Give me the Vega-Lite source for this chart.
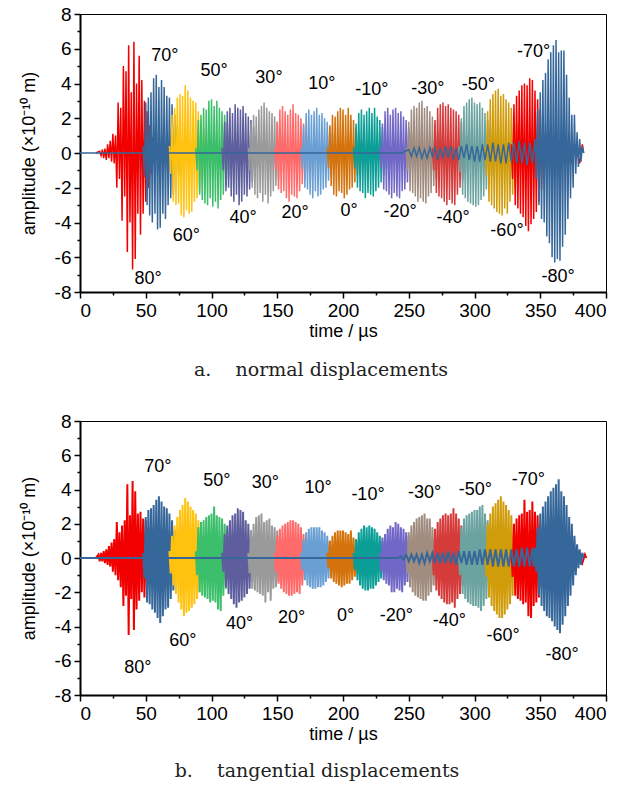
{
"$schema":"https://vega.github.io/schema/vega-lite/v6.json",
"padding":{"left":19,"top":4,"right":5,"bottom":5},
"spacing":30,
"config":{"view":{"stroke":"#000","strokeWidth":1},"axis":{"grid":false,"labelOverlap":false,"domainColor":"#000","domainWidth":2,"tickColor":"#000","tickWidth":1.5,"labelColor":"#000","labelFont":"Liberation Sans","labelFontSize":19,"labelPadding":3,"titleFont":"Liberation Sans","titleFontSize":18,"titleFontWeight":"normal","titleColor":"#000"},"title":{"font":"DejaVu Serif","fontSize":19,"fontWeight":"normal","color":"#222","orient":"bottom"}},
"datasets":{
"lab":[
{"p":"a","s":"70°","t":64.6,"y":5.6},{"p":"a","s":"50°","t":101.9,"y":4.7},{"p":"a","s":"30°","t":143.7,"y":4.3},{"p":"a","s":"10°","t":184,"y":4.0},{"p":"a","s":"-10°","t":222,"y":3.6},{"p":"a","s":"-30°","t":264.6,"y":3.7},{"p":"a","s":"-50°","t":303,"y":3.9},{"p":"a","s":"-70°","t":345,"y":5.8},{"p":"a","s":"80°","t":51.7,"y":-7.25},{"p":"a","s":"60°","t":80.8,"y":-4.8},{"p":"a","s":"40°","t":124,"y":-3.75},{"p":"a","s":"20°","t":163.5,"y":-3.45},{"p":"a","s":"0°","t":204.6,"y":-3.35},{"p":"a","s":"-20°","t":243.4,"y":-3.4},{"p":"a","s":"-40°","t":283.7,"y":-3.75},{"p":"a","s":"-60°","t":324.7,"y":-4.5},{"p":"a","s":"-80°","t":363.5,"y":-7.15},
{"p":"b","s":"70°","t":59.2,"y":5.3},{"p":"b","s":"50°","t":104,"y":4.5},{"p":"b","s":"30°","t":141,"y":4.4},{"p":"b","s":"10°","t":181,"y":4.1},{"p":"b","s":"-10°","t":219,"y":3.65},{"p":"b","s":"-30°","t":262,"y":3.8},{"p":"b","s":"-50°","t":300.6,"y":3.95},{"p":"b","s":"-70°","t":341,"y":4.55},{"p":"b","s":"80°","t":44,"y":-6.4},{"p":"b","s":"60°","t":78.2,"y":-4.85},{"p":"b","s":"40°","t":121.4,"y":-3.85},{"p":"b","s":"20°","t":160.9,"y":-3.5},{"p":"b","s":"0°","t":202,"y":-3.4},{"p":"b","s":"-20°","t":240.6,"y":-3.4},{"p":"b","s":"-40°","t":280.8,"y":-3.7},{"p":"b","s":"-60°","t":321.8,"y":-4.55},{"p":"b","s":"-80°","t":366.6,"y":-5.65}
],
"a":[
{"k":"80","t":12,"y":0},{"k":"80","t":15,"y":0.1},{"k":"80","t":16,"y":-0.15},{"k":"80","t":17,"y":0.2},{"k":"80","t":18,"y":-0.3},{"k":"80","t":19,"y":0.25},{"k":"80","t":20,"y":-0.4},{"k":"80","t":21,"y":0.5},{"k":"80","t":22,"y":-0.3},{"k":"80","t":23,"y":0.7},{"k":"80","t":24,"y":-0.5},{"k":"80","t":25,"y":1.1},{"k":"80","t":26,"y":-0.6},{"k":"80","t":27,"y":1.0},{"k":"80","t":28,"y":-2.0},{"k":"80","t":29,"y":2.9},{"k":"80","t":30,"y":-1.5},{"k":"80","t":31,"y":2.6},{"k":"80","t":32,"y":-3.9},{"k":"80","t":33,"y":5.0},{"k":"80","t":34,"y":-2.5},{"k":"80","t":35,"y":4.7},{"k":"80","t":36,"y":-5.7},{"k":"80","t":37,"y":6.2},{"k":"80","t":38,"y":-4.0},{"k":"80","t":39,"y":3.5},{"k":"80","t":40,"y":-6.7},{"k":"80","t":41,"y":6.4},{"k":"80","t":42,"y":-6.1},{"k":"80","t":43,"y":4.0},{"k":"80","t":44,"y":-3.5},{"k":"80","t":45,"y":5.6},{"k":"80","t":46,"y":-4.7},{"k":"80","t":47,"y":4.2},{"k":"80","t":48,"y":-3.5},{"k":"80","t":49,"y":3.0},{"k":"80","t":50,"y":-2.8},{"k":"80","t":51,"y":2.4},{"k":"80","t":52,"y":-2.0},{"k":"80","t":53,"y":1.6},{"k":"80","t":54,"y":-1.2},{"k":"80","t":55,"y":0.9},{"k":"80","t":56,"y":-0.6},{"k":"80","t":57,"y":0.4},{"k":"80","t":60,"y":-0.3},{"k":"80","t":66,"y":0.2},{"k":"80","t":75,"y":0},
{"k":"70","t":48,"y":0.4},{"k":"70","t":49,"y":-1.4},{"k":"70","t":50,"y":2.9},{"k":"70","t":51,"y":-3.0},{"k":"70","t":52,"y":3.2},{"k":"70","t":53,"y":-3.6},{"k":"70","t":54,"y":3.5},{"k":"70","t":55,"y":-4.0},{"k":"70","t":56,"y":4.3},{"k":"70","t":57,"y":-3.5},{"k":"70","t":58,"y":4.5},{"k":"70","t":59,"y":-4.4},{"k":"70","t":60,"y":3.8},{"k":"70","t":61,"y":-4.3},{"k":"70","t":62,"y":4.2},{"k":"70","t":63,"y":-3.5},{"k":"70","t":64,"y":3.8},{"k":"70","t":65,"y":-3.8},{"k":"70","t":66,"y":3.3},{"k":"70","t":67,"y":-3.0},{"k":"70","t":68,"y":3.2},{"k":"70","t":69,"y":-2.6},{"k":"70","t":70,"y":2.8},{"k":"70","t":71,"y":-2.4},{"k":"70","t":72,"y":2.2},{"k":"70","t":73,"y":-1.9},{"k":"70","t":74,"y":1.6},{"k":"70","t":75,"y":-1.3},{"k":"70","t":76,"y":1.0},{"k":"70","t":77,"y":-0.7},{"k":"70","t":78,"y":0.4},
{"k":"60","t":68,"y":0.4},{"k":"60","t":69,"y":-1.2},{"k":"60","t":70,"y":2.2},{"k":"60","t":71,"y":-2.8},{"k":"60","t":72,"y":2.6},{"k":"60","t":73,"y":-3.0},{"k":"60","t":74,"y":3.2},{"k":"60","t":75,"y":-2.9},{"k":"60","t":76,"y":3.4},{"k":"60","t":77,"y":-3.6},{"k":"60","t":78,"y":3.3},{"k":"60","t":79,"y":-3.7},{"k":"60","t":80,"y":3.9},{"k":"60","t":81,"y":-3.3},{"k":"60","t":82,"y":3.6},{"k":"60","t":83,"y":-3.5},{"k":"60","t":84,"y":3.2},{"k":"60","t":85,"y":-3.4},{"k":"60","t":86,"y":3.0},{"k":"60","t":87,"y":-2.8},{"k":"60","t":88,"y":2.9},{"k":"60","t":89,"y":-2.6},{"k":"60","t":90,"y":2.4},{"k":"60","t":91,"y":-2.2},{"k":"60","t":92,"y":2.0},{"k":"60","t":93,"y":-1.7},{"k":"60","t":94,"y":1.4},{"k":"60","t":95,"y":-1.1},{"k":"60","t":96,"y":0.8},{"k":"60","t":97,"y":-0.5},{"k":"60","t":98,"y":0.3},
{"k":"50","t":88,"y":0.3},{"k":"50","t":89,"y":-1.0},{"k":"50","t":90,"y":1.9},{"k":"50","t":91,"y":-2.4},{"k":"50","t":92,"y":2.2},{"k":"50","t":93,"y":-2.7},{"k":"50","t":94,"y":2.6},{"k":"50","t":95,"y":-2.9},{"k":"50","t":96,"y":2.5},{"k":"50","t":97,"y":-3.0},{"k":"50","t":98,"y":3.0},{"k":"50","t":99,"y":-2.6},{"k":"50","t":100,"y":3.1},{"k":"50","t":101,"y":-3.1},{"k":"50","t":102,"y":2.7},{"k":"50","t":103,"y":-2.8},{"k":"50","t":104,"y":3.0},{"k":"50","t":105,"y":-3.2},{"k":"50","t":106,"y":2.6},{"k":"50","t":107,"y":-2.7},{"k":"50","t":108,"y":2.4},{"k":"50","t":109,"y":-2.4},{"k":"50","t":110,"y":2.2},{"k":"50","t":111,"y":-1.9},{"k":"50","t":112,"y":1.7},{"k":"50","t":113,"y":-1.5},{"k":"50","t":114,"y":1.2},{"k":"50","t":115,"y":-0.9},{"k":"50","t":116,"y":0.7},{"k":"50","t":117,"y":-0.5},{"k":"50","t":118,"y":0.3},
{"k":"40","t":108,"y":0.3},{"k":"40","t":109,"y":-1.0},{"k":"40","t":110,"y":1.8},{"k":"40","t":111,"y":-2.2},{"k":"40","t":112,"y":2.4},{"k":"40","t":113,"y":-2.0},{"k":"40","t":114,"y":2.6},{"k":"40","t":115,"y":-2.5},{"k":"40","t":116,"y":2.3},{"k":"40","t":117,"y":-2.8},{"k":"40","t":118,"y":2.8},{"k":"40","t":119,"y":-2.4},{"k":"40","t":120,"y":2.6},{"k":"40","t":121,"y":-3.0},{"k":"40","t":122,"y":2.5},{"k":"40","t":123,"y":-2.8},{"k":"40","t":124,"y":2.7},{"k":"40","t":125,"y":-2.4},{"k":"40","t":126,"y":2.3},{"k":"40","t":127,"y":-2.5},{"k":"40","t":128,"y":2.1},{"k":"40","t":129,"y":-2.1},{"k":"40","t":130,"y":1.9},{"k":"40","t":131,"y":-1.7},{"k":"40","t":132,"y":1.5},{"k":"40","t":133,"y":-1.3},{"k":"40","t":134,"y":1.0},{"k":"40","t":135,"y":-0.8},{"k":"40","t":136,"y":0.6},{"k":"40","t":137,"y":-0.4},{"k":"40","t":138,"y":0.2},
{"k":"30","t":128,"y":0.3},{"k":"30","t":129,"y":-1.0},{"k":"30","t":130,"y":1.7},{"k":"30","t":131,"y":-2.0},{"k":"30","t":132,"y":2.2},{"k":"30","t":133,"y":-2.4},{"k":"30","t":134,"y":2.1},{"k":"30","t":135,"y":-2.6},{"k":"30","t":136,"y":2.5},{"k":"30","t":137,"y":-2.3},{"k":"30","t":138,"y":2.7},{"k":"30","t":139,"y":-2.8},{"k":"30","t":140,"y":2.9},{"k":"30","t":141,"y":-2.4},{"k":"30","t":142,"y":2.6},{"k":"30","t":143,"y":-2.9},{"k":"30","t":144,"y":2.4},{"k":"30","t":145,"y":-2.5},{"k":"30","t":146,"y":2.3},{"k":"30","t":147,"y":-2.2},{"k":"30","t":148,"y":2.1},{"k":"30","t":149,"y":-1.9},{"k":"30","t":150,"y":1.8},{"k":"30","t":151,"y":-1.6},{"k":"30","t":152,"y":1.4},{"k":"30","t":153,"y":-1.2},{"k":"30","t":154,"y":1.0},{"k":"30","t":155,"y":-0.8},{"k":"30","t":156,"y":0.6},{"k":"30","t":157,"y":-0.4},{"k":"30","t":158,"y":0.2},
{"k":"20","t":148,"y":0.3},{"k":"20","t":149,"y":-1.0},{"k":"20","t":150,"y":1.8},{"k":"20","t":151,"y":-2.1},{"k":"20","t":152,"y":2.5},{"k":"20","t":153,"y":-2.3},{"k":"20","t":154,"y":2.7},{"k":"20","t":155,"y":-2.2},{"k":"20","t":156,"y":2.4},{"k":"20","t":157,"y":-2.6},{"k":"20","t":158,"y":2.2},{"k":"20","t":159,"y":-2.8},{"k":"20","t":160,"y":2.5},{"k":"20","t":161,"y":-2.4},{"k":"20","t":162,"y":2.8},{"k":"20","t":163,"y":-2.5},{"k":"20","t":164,"y":2.3},{"k":"20","t":165,"y":-2.6},{"k":"20","t":166,"y":2.2},{"k":"20","t":167,"y":-2.2},{"k":"20","t":168,"y":2.0},{"k":"20","t":169,"y":-1.8},{"k":"20","t":170,"y":1.7},{"k":"20","t":171,"y":-1.5},{"k":"20","t":172,"y":1.3},{"k":"20","t":173,"y":-1.1},{"k":"20","t":174,"y":0.9},{"k":"20","t":175,"y":-0.7},{"k":"20","t":176,"y":0.5},{"k":"20","t":177,"y":-0.4},{"k":"20","t":178,"y":0.2},
{"k":"10","t":168,"y":0.3},{"k":"10","t":169,"y":-0.9},{"k":"10","t":170,"y":1.6},{"k":"10","t":171,"y":-2.0},{"k":"10","t":172,"y":2.3},{"k":"10","t":173,"y":-2.1},{"k":"10","t":174,"y":2.5},{"k":"10","t":175,"y":-2.4},{"k":"10","t":176,"y":2.2},{"k":"10","t":177,"y":-2.6},{"k":"10","t":178,"y":2.4},{"k":"10","t":179,"y":-2.2},{"k":"10","t":180,"y":2.6},{"k":"10","t":181,"y":-2.5},{"k":"10","t":182,"y":2.2},{"k":"10","t":183,"y":-2.4},{"k":"10","t":184,"y":2.3},{"k":"10","t":185,"y":-2.1},{"k":"10","t":186,"y":2.0},{"k":"10","t":187,"y":-2.0},{"k":"10","t":188,"y":1.8},{"k":"10","t":189,"y":-1.6},{"k":"10","t":190,"y":1.5},{"k":"10","t":191,"y":-1.3},{"k":"10","t":192,"y":1.1},{"k":"10","t":193,"y":-0.9},{"k":"10","t":194,"y":0.8},{"k":"10","t":195,"y":-0.6},{"k":"10","t":196,"y":0.4},{"k":"10","t":197,"y":-0.3},{"k":"10","t":198,"y":0.2},
{"k":"0","t":188,"y":0.3},{"k":"0","t":189,"y":-0.9},{"k":"0","t":190,"y":1.6},{"k":"0","t":191,"y":-1.9},{"k":"0","t":192,"y":2.2},{"k":"0","t":193,"y":-2.4},{"k":"0","t":194,"y":2.1},{"k":"0","t":195,"y":-2.5},{"k":"0","t":196,"y":2.4},{"k":"0","t":197,"y":-2.2},{"k":"0","t":198,"y":2.6},{"k":"0","t":199,"y":-2.3},{"k":"0","t":200,"y":2.5},{"k":"0","t":201,"y":-2.6},{"k":"0","t":202,"y":2.2},{"k":"0","t":203,"y":-2.4},{"k":"0","t":204,"y":2.6},{"k":"0","t":205,"y":-2.1},{"k":"0","t":206,"y":2.2},{"k":"0","t":207,"y":-2.0},{"k":"0","t":208,"y":1.9},{"k":"0","t":209,"y":-1.7},{"k":"0","t":210,"y":1.5},{"k":"0","t":211,"y":-1.3},{"k":"0","t":212,"y":1.1},{"k":"0","t":213,"y":-0.9},{"k":"0","t":214,"y":0.8},{"k":"0","t":215,"y":-0.6},{"k":"0","t":216,"y":0.4},{"k":"0","t":217,"y":-0.3},{"k":"0","t":218,"y":0.2},
{"k":"-10","t":208,"y":0.3},{"k":"-10","t":209,"y":-0.9},{"k":"-10","t":210,"y":1.7},{"k":"-10","t":211,"y":-2.0},{"k":"-10","t":212,"y":2.3},{"k":"-10","t":213,"y":-2.2},{"k":"-10","t":214,"y":2.5},{"k":"-10","t":215,"y":-2.3},{"k":"-10","t":216,"y":2.2},{"k":"-10","t":217,"y":-2.6},{"k":"-10","t":218,"y":2.4},{"k":"-10","t":219,"y":-2.3},{"k":"-10","t":220,"y":2.6},{"k":"-10","t":221,"y":-2.4},{"k":"-10","t":222,"y":2.3},{"k":"-10","t":223,"y":-2.5},{"k":"-10","t":224,"y":2.6},{"k":"-10","t":225,"y":-2.2},{"k":"-10","t":226,"y":2.1},{"k":"-10","t":227,"y":-2.0},{"k":"-10","t":228,"y":1.9},{"k":"-10","t":229,"y":-1.7},{"k":"-10","t":230,"y":1.5},{"k":"-10","t":231,"y":-1.3},{"k":"-10","t":232,"y":1.1},{"k":"-10","t":233,"y":-0.9},{"k":"-10","t":234,"y":0.8},{"k":"-10","t":235,"y":-0.6},{"k":"-10","t":236,"y":0.4},{"k":"-10","t":237,"y":-0.3},{"k":"-10","t":238,"y":0.2},
{"k":"-20","t":228,"y":0.3},{"k":"-20","t":229,"y":-0.9},{"k":"-20","t":230,"y":1.7},{"k":"-20","t":231,"y":-2.1},{"k":"-20","t":232,"y":2.4},{"k":"-20","t":233,"y":-2.2},{"k":"-20","t":234,"y":2.6},{"k":"-20","t":235,"y":-2.4},{"k":"-20","t":236,"y":2.2},{"k":"-20","t":237,"y":-2.6},{"k":"-20","t":238,"y":2.5},{"k":"-20","t":239,"y":-2.3},{"k":"-20","t":240,"y":2.6},{"k":"-20","t":241,"y":-2.5},{"k":"-20","t":242,"y":2.3},{"k":"-20","t":243,"y":-2.6},{"k":"-20","t":244,"y":2.4},{"k":"-20","t":245,"y":-2.2},{"k":"-20","t":246,"y":2.1},{"k":"-20","t":247,"y":-2.1},{"k":"-20","t":248,"y":1.9},{"k":"-20","t":249,"y":-1.7},{"k":"-20","t":250,"y":1.5},{"k":"-20","t":251,"y":-1.3},{"k":"-20","t":252,"y":1.1},{"k":"-20","t":253,"y":-0.9},{"k":"-20","t":254,"y":0.8},{"k":"-20","t":255,"y":-0.6},{"k":"-20","t":256,"y":0.4},{"k":"-20","t":257,"y":-0.3},{"k":"-20","t":258,"y":0.2},
{"k":"-30","t":248,"y":0.3},{"k":"-30","t":249,"y":-1.0},{"k":"-30","t":250,"y":1.8},{"k":"-30","t":251,"y":-2.2},{"k":"-30","t":252,"y":2.5},{"k":"-30","t":253,"y":-2.3},{"k":"-30","t":254,"y":2.7},{"k":"-30","t":255,"y":-2.5},{"k":"-30","t":256,"y":2.6},{"k":"-30","t":257,"y":-2.8},{"k":"-30","t":258,"y":2.9},{"k":"-30","t":259,"y":-2.6},{"k":"-30","t":260,"y":3.0},{"k":"-30","t":261,"y":-2.8},{"k":"-30","t":262,"y":2.6},{"k":"-30","t":263,"y":-2.9},{"k":"-30","t":264,"y":2.7},{"k":"-30","t":265,"y":-2.5},{"k":"-30","t":266,"y":2.4},{"k":"-30","t":267,"y":-2.3},{"k":"-30","t":268,"y":2.1},{"k":"-30","t":269,"y":-1.9},{"k":"-30","t":270,"y":1.7},{"k":"-30","t":271,"y":-1.5},{"k":"-30","t":272,"y":1.3},{"k":"-30","t":273,"y":-1.1},{"k":"-30","t":274,"y":0.9},{"k":"-30","t":275,"y":-0.7},{"k":"-30","t":276,"y":0.5},{"k":"-30","t":277,"y":-0.3},{"k":"-30","t":278,"y":0.2},
{"k":"-40","t":268,"y":0.3},{"k":"-40","t":269,"y":-1.0},{"k":"-40","t":270,"y":1.9},{"k":"-40","t":271,"y":-2.3},{"k":"-40","t":272,"y":2.6},{"k":"-40","t":273,"y":-2.5},{"k":"-40","t":274,"y":2.8},{"k":"-40","t":275,"y":-2.6},{"k":"-40","t":276,"y":2.9},{"k":"-40","t":277,"y":-2.8},{"k":"-40","t":278,"y":2.7},{"k":"-40","t":279,"y":-3.0},{"k":"-40","t":280,"y":2.8},{"k":"-40","t":281,"y":-2.7},{"k":"-40","t":282,"y":2.6},{"k":"-40","t":283,"y":-2.9},{"k":"-40","t":284,"y":2.5},{"k":"-40","t":285,"y":-3.0},{"k":"-40","t":286,"y":2.4},{"k":"-40","t":287,"y":-2.4},{"k":"-40","t":288,"y":2.2},{"k":"-40","t":289,"y":-2.0},{"k":"-40","t":290,"y":1.8},{"k":"-40","t":291,"y":-1.6},{"k":"-40","t":292,"y":1.4},{"k":"-40","t":293,"y":-1.2},{"k":"-40","t":294,"y":1.0},{"k":"-40","t":295,"y":-0.8},{"k":"-40","t":296,"y":0.6},{"k":"-40","t":297,"y":-0.4},{"k":"-40","t":298,"y":0.2},
{"k":"-50","t":288,"y":0.4},{"k":"-50","t":289,"y":-1.1},{"k":"-50","t":290,"y":2.0},{"k":"-50","t":291,"y":-2.4},{"k":"-50","t":292,"y":2.7},{"k":"-50","t":293,"y":-2.6},{"k":"-50","t":294,"y":2.9},{"k":"-50","t":295,"y":-2.8},{"k":"-50","t":296,"y":3.1},{"k":"-50","t":297,"y":-2.9},{"k":"-50","t":298,"y":3.2},{"k":"-50","t":299,"y":-3.0},{"k":"-50","t":300,"y":2.9},{"k":"-50","t":301,"y":-3.1},{"k":"-50","t":302,"y":2.8},{"k":"-50","t":303,"y":-3.0},{"k":"-50","t":304,"y":2.9},{"k":"-50","t":305,"y":-2.7},{"k":"-50","t":306,"y":2.6},{"k":"-50","t":307,"y":-2.5},{"k":"-50","t":308,"y":2.3},{"k":"-50","t":309,"y":-2.1},{"k":"-50","t":310,"y":1.9},{"k":"-50","t":311,"y":-1.7},{"k":"-50","t":312,"y":1.5},{"k":"-50","t":313,"y":-1.3},{"k":"-50","t":314,"y":1.1},{"k":"-50","t":315,"y":-0.9},{"k":"-50","t":316,"y":0.7},{"k":"-50","t":317,"y":-0.5},{"k":"-50","t":318,"y":0.3},
{"k":"-60","t":308,"y":0.4},{"k":"-60","t":309,"y":-1.3},{"k":"-60","t":310,"y":2.4},{"k":"-60","t":311,"y":-2.8},{"k":"-60","t":312,"y":3.1},{"k":"-60","t":313,"y":-3.0},{"k":"-60","t":314,"y":3.4},{"k":"-60","t":315,"y":-3.2},{"k":"-60","t":316,"y":3.6},{"k":"-60","t":317,"y":-3.4},{"k":"-60","t":318,"y":3.7},{"k":"-60","t":319,"y":-3.5},{"k":"-60","t":320,"y":3.3},{"k":"-60","t":321,"y":-3.6},{"k":"-60","t":322,"y":3.4},{"k":"-60","t":323,"y":-3.2},{"k":"-60","t":324,"y":3.1},{"k":"-60","t":325,"y":-3.5},{"k":"-60","t":326,"y":2.9},{"k":"-60","t":327,"y":-2.8},{"k":"-60","t":328,"y":2.6},{"k":"-60","t":329,"y":-2.4},{"k":"-60","t":330,"y":2.2},{"k":"-60","t":331,"y":-2.0},{"k":"-60","t":332,"y":1.7},{"k":"-60","t":333,"y":-1.5},{"k":"-60","t":334,"y":1.2},{"k":"-60","t":335,"y":-1.0},{"k":"-60","t":336,"y":0.8},{"k":"-60","t":337,"y":-0.6},{"k":"-60","t":338,"y":0.3},
{"k":"-70","t":328,"y":0.5},{"k":"-70","t":329,"y":-1.5},{"k":"-70","t":330,"y":2.8},{"k":"-70","t":331,"y":-3.0},{"k":"-70","t":332,"y":3.3},{"k":"-70","t":333,"y":-3.2},{"k":"-70","t":334,"y":3.6},{"k":"-70","t":335,"y":-3.5},{"k":"-70","t":336,"y":3.9},{"k":"-70","t":337,"y":-3.7},{"k":"-70","t":338,"y":4.0},{"k":"-70","t":339,"y":-4.2},{"k":"-70","t":340,"y":3.9},{"k":"-70","t":341,"y":-4.5},{"k":"-70","t":342,"y":4.3},{"k":"-70","t":343,"y":-4.1},{"k":"-70","t":344,"y":4.2},{"k":"-70","t":345,"y":-3.8},{"k":"-70","t":346,"y":3.6},{"k":"-70","t":347,"y":-3.4},{"k":"-70","t":348,"y":3.1},{"k":"-70","t":349,"y":-2.8},{"k":"-70","t":350,"y":2.5},{"k":"-70","t":351,"y":-2.1},{"k":"-70","t":352,"y":1.8},{"k":"-70","t":353,"y":-1.5},{"k":"-70","t":354,"y":1.2},{"k":"-70","t":355,"y":-0.9},{"k":"-70","t":356,"y":0.7},{"k":"-70","t":357,"y":-0.5},{"k":"-70","t":359,"y":0.5},{"k":"-70","t":362,"y":-0.5},{"k":"-70","t":365,"y":0.6},{"k":"-70","t":368,"y":-0.5},{"k":"-70","t":371,"y":0.5},{"k":"-70","t":374,"y":-0.6},{"k":"-70","t":377,"y":0.5},{"k":"-70","t":380,"y":-0.6},{"k":"-70","t":382,"y":0.5},{"k":"-70","t":383,"y":0},
{"k":"-80","t":0,"y":0},{"k":"-80","t":245,"y":0},{"k":"-80","t":250,"y":0.2},{"k":"-80","t":252,"y":-0.2},{"k":"-80","t":254,"y":0.3},{"k":"-80","t":256,"y":-0.2},{"k":"-80","t":258,"y":0.3},{"k":"-80","t":260,"y":-0.3},{"k":"-80","t":262,"y":0.2},{"k":"-80","t":264,"y":-0.3},{"k":"-80","t":266,"y":0.3},{"k":"-80","t":268,"y":-0.2},{"k":"-80","t":270,"y":0.3},{"k":"-80","t":272,"y":-0.4},{"k":"-80","t":274,"y":0.3},{"k":"-80","t":276,"y":-0.3},{"k":"-80","t":278,"y":0.4},{"k":"-80","t":280,"y":-0.3},{"k":"-80","t":282,"y":0.4},{"k":"-80","t":284,"y":-0.4},{"k":"-80","t":286,"y":0.3},{"k":"-80","t":288,"y":-0.4},{"k":"-80","t":290,"y":0.4},{"k":"-80","t":292,"y":-0.3},{"k":"-80","t":294,"y":0.5},{"k":"-80","t":296,"y":-0.4},{"k":"-80","t":298,"y":0.4},{"k":"-80","t":300,"y":-0.5},{"k":"-80","t":302,"y":0.4},{"k":"-80","t":304,"y":-0.5},{"k":"-80","t":306,"y":0.5},{"k":"-80","t":308,"y":-0.4},{"k":"-80","t":310,"y":0.5},{"k":"-80","t":312,"y":-0.5},{"k":"-80","t":314,"y":0.6},{"k":"-80","t":316,"y":-0.5},{"k":"-80","t":318,"y":0.5},{"k":"-80","t":320,"y":-0.6},{"k":"-80","t":322,"y":0.5},{"k":"-80","t":324,"y":-0.6},{"k":"-80","t":326,"y":0.6},{"k":"-80","t":328,"y":-0.5},{"k":"-80","t":330,"y":0.6},{"k":"-80","t":332,"y":-0.6},{"k":"-80","t":334,"y":0.7},{"k":"-80","t":336,"y":-0.6},{"k":"-80","t":338,"y":0.6},{"k":"-80","t":340,"y":-0.7},{"k":"-80","t":342,"y":0.6},{"k":"-80","t":344,"y":-0.6},{"k":"-80","t":346,"y":0.8},{"k":"-80","t":347,"y":-1.5},{"k":"-80","t":348,"y":2.5},{"k":"-80","t":349,"y":-3.0},{"k":"-80","t":350,"y":3.5},{"k":"-80","t":351,"y":-3.8},{"k":"-80","t":352,"y":4.2},{"k":"-80","t":353,"y":-4.0},{"k":"-80","t":354,"y":4.6},{"k":"-80","t":355,"y":-4.8},{"k":"-80","t":356,"y":5.4},{"k":"-80","t":357,"y":-5.2},{"k":"-80","t":358,"y":5.8},{"k":"-80","t":359,"y":-6.0},{"k":"-80","t":360,"y":6.2},{"k":"-80","t":361,"y":-6.3},{"k":"-80","t":362,"y":6.5},{"k":"-80","t":363,"y":-6.1},{"k":"-80","t":364,"y":5.8},{"k":"-80","t":365,"y":-6.2},{"k":"-80","t":366,"y":5.9},{"k":"-80","t":367,"y":-5.4},{"k":"-80","t":368,"y":5.9},{"k":"-80","t":369,"y":-4.7},{"k":"-80","t":370,"y":4.5},{"k":"-80","t":371,"y":-3.8},{"k":"-80","t":372,"y":3.2},{"k":"-80","t":373,"y":-2.6},{"k":"-80","t":374,"y":2.2},{"k":"-80","t":375,"y":-2.0},{"k":"-80","t":376,"y":2.2},{"k":"-80","t":377,"y":-1.2},{"k":"-80","t":378,"y":1.2},{"k":"-80","t":379,"y":-0.8},{"k":"-80","t":380,"y":0.8},{"k":"-80","t":381,"y":-0.5},{"k":"-80","t":382,"y":0.4},{"k":"-80","t":383,"y":0}
],
"b":[
{"k":"80","t":12,"y":0},{"k":"80","t":14,"y":0.2},{"k":"80","t":15,"y":-0.2},{"k":"80","t":16,"y":0.3},{"k":"80","t":17,"y":-0.2},{"k":"80","t":18,"y":0.4},{"k":"80","t":19,"y":-0.3},{"k":"80","t":20,"y":0.5},{"k":"80","t":21,"y":-0.4},{"k":"80","t":22,"y":0.7},{"k":"80","t":23,"y":-0.5},{"k":"80","t":24,"y":0.9},{"k":"80","t":25,"y":-0.8},{"k":"80","t":26,"y":1.1},{"k":"80","t":27,"y":-1.0},{"k":"80","t":28,"y":2.1},{"k":"80","t":29,"y":-1.3},{"k":"80","t":30,"y":1.5},{"k":"80","t":31,"y":-1.7},{"k":"80","t":32,"y":1.9},{"k":"80","t":33,"y":-2.8},{"k":"80","t":34,"y":2.2},{"k":"80","t":35,"y":-2.2},{"k":"80","t":36,"y":4.3},{"k":"80","t":37,"y":-4.5},{"k":"80","t":38,"y":2.5},{"k":"80","t":39,"y":-2.4},{"k":"80","t":40,"y":4.5},{"k":"80","t":41,"y":-4.2},{"k":"80","t":42,"y":3.9},{"k":"80","t":43,"y":-3.0},{"k":"80","t":44,"y":2.6},{"k":"80","t":45,"y":-2.5},{"k":"80","t":46,"y":2.7},{"k":"80","t":47,"y":-2.0},{"k":"80","t":48,"y":2.3},{"k":"80","t":49,"y":-2.3},{"k":"80","t":50,"y":2.2},{"k":"80","t":51,"y":-2.0},{"k":"80","t":52,"y":1.8},{"k":"80","t":53,"y":-1.5},{"k":"80","t":54,"y":1.2},{"k":"80","t":55,"y":-0.9},{"k":"80","t":56,"y":0.6},{"k":"80","t":57,"y":-0.4},{"k":"80","t":60,"y":0.2},{"k":"80","t":70,"y":0},
{"k":"70","t":48,"y":0.3},{"k":"70","t":49,"y":-1.2},{"k":"70","t":50,"y":2.4},{"k":"70","t":51,"y":-2.6},{"k":"70","t":52,"y":2.8},{"k":"70","t":53,"y":-2.7},{"k":"70","t":54,"y":2.9},{"k":"70","t":55,"y":-3.0},{"k":"70","t":56,"y":3.1},{"k":"70","t":57,"y":-3.2},{"k":"70","t":58,"y":3.4},{"k":"70","t":59,"y":-3.5},{"k":"70","t":60,"y":3.6},{"k":"70","t":61,"y":-3.8},{"k":"70","t":62,"y":3.3},{"k":"70","t":63,"y":-3.4},{"k":"70","t":64,"y":3.0},{"k":"70","t":65,"y":-3.0},{"k":"70","t":66,"y":2.9},{"k":"70","t":67,"y":-2.9},{"k":"70","t":68,"y":2.6},{"k":"70","t":69,"y":-2.4},{"k":"70","t":70,"y":2.2},{"k":"70","t":71,"y":-1.9},{"k":"70","t":72,"y":1.6},{"k":"70","t":73,"y":-1.3},{"k":"70","t":74,"y":1.0},{"k":"70","t":75,"y":-0.7},{"k":"70","t":76,"y":0.5},{"k":"70","t":77,"y":-0.3},{"k":"70","t":78,"y":0.2},
{"k":"60","t":68,"y":0.4},{"k":"60","t":69,"y":-0.9},{"k":"60","t":70,"y":1.3},{"k":"60","t":71,"y":-1.6},{"k":"60","t":72,"y":1.9},{"k":"60","t":73,"y":-2.1},{"k":"60","t":74,"y":2.4},{"k":"60","t":75,"y":-2.6},{"k":"60","t":76,"y":2.8},{"k":"60","t":77,"y":-3.0},{"k":"60","t":78,"y":3.1},{"k":"60","t":79,"y":-3.4},{"k":"60","t":80,"y":3.5},{"k":"60","t":81,"y":-3.2},{"k":"60","t":82,"y":3.3},{"k":"60","t":83,"y":-3.1},{"k":"60","t":84,"y":3.0},{"k":"60","t":85,"y":-2.9},{"k":"60","t":86,"y":2.8},{"k":"60","t":87,"y":-2.7},{"k":"60","t":88,"y":2.6},{"k":"60","t":89,"y":-2.4},{"k":"60","t":90,"y":2.2},{"k":"60","t":91,"y":-2.0},{"k":"60","t":92,"y":1.7},{"k":"60","t":93,"y":-1.4},{"k":"60","t":94,"y":1.1},{"k":"60","t":95,"y":-0.8},{"k":"60","t":96,"y":0.6},{"k":"60","t":97,"y":-0.4},{"k":"60","t":98,"y":0.2},
{"k":"50","t":88,"y":0.4},{"k":"50","t":89,"y":-1.0},{"k":"50","t":90,"y":1.8},{"k":"50","t":91,"y":-2.0},{"k":"50","t":92,"y":2.1},{"k":"50","t":93,"y":-2.2},{"k":"50","t":94,"y":2.2},{"k":"50","t":95,"y":-2.3},{"k":"50","t":96,"y":2.4},{"k":"50","t":97,"y":-2.4},{"k":"50","t":98,"y":2.5},{"k":"50","t":99,"y":-2.6},{"k":"50","t":100,"y":2.6},{"k":"50","t":101,"y":-2.5},{"k":"50","t":102,"y":3.0},{"k":"50","t":103,"y":-2.6},{"k":"50","t":104,"y":2.5},{"k":"50","t":105,"y":-3.0},{"k":"50","t":106,"y":2.4},{"k":"50","t":107,"y":-3.1},{"k":"50","t":108,"y":2.3},{"k":"50","t":109,"y":-2.2},{"k":"50","t":110,"y":2.0},{"k":"50","t":111,"y":-1.8},{"k":"50","t":112,"y":1.6},{"k":"50","t":113,"y":-1.3},{"k":"50","t":114,"y":1.0},{"k":"50","t":115,"y":-0.8},{"k":"50","t":116,"y":0.6},{"k":"50","t":117,"y":-0.4},{"k":"50","t":118,"y":0.2},
{"k":"40","t":108,"y":0.3},{"k":"40","t":109,"y":-0.8},{"k":"40","t":110,"y":1.4},{"k":"40","t":111,"y":-1.7},{"k":"40","t":112,"y":1.9},{"k":"40","t":113,"y":-2.1},{"k":"40","t":114,"y":2.2},{"k":"40","t":115,"y":-2.4},{"k":"40","t":116,"y":2.5},{"k":"40","t":117,"y":-2.7},{"k":"40","t":118,"y":2.6},{"k":"40","t":119,"y":-2.9},{"k":"40","t":120,"y":2.9},{"k":"40","t":121,"y":-2.6},{"k":"40","t":122,"y":2.8},{"k":"40","t":123,"y":-2.5},{"k":"40","t":124,"y":2.7},{"k":"40","t":125,"y":-2.3},{"k":"40","t":126,"y":2.2},{"k":"40","t":127,"y":-2.1},{"k":"40","t":128,"y":2.0},{"k":"40","t":129,"y":-1.8},{"k":"40","t":130,"y":1.6},{"k":"40","t":131,"y":-1.4},{"k":"40","t":132,"y":1.2},{"k":"40","t":133,"y":-1.0},{"k":"40","t":134,"y":0.8},{"k":"40","t":135,"y":-0.6},{"k":"40","t":136,"y":0.4},{"k":"40","t":137,"y":-0.3},{"k":"40","t":138,"y":0.2},
{"k":"30","t":128,"y":0.3},{"k":"30","t":129,"y":-0.9},{"k":"30","t":130,"y":1.6},{"k":"30","t":131,"y":-1.8},{"k":"30","t":132,"y":2.0},{"k":"30","t":133,"y":-1.9},{"k":"30","t":134,"y":2.4},{"k":"30","t":135,"y":-2.0},{"k":"30","t":136,"y":2.5},{"k":"30","t":137,"y":-2.1},{"k":"30","t":138,"y":2.6},{"k":"30","t":139,"y":-2.2},{"k":"30","t":140,"y":2.1},{"k":"30","t":141,"y":-2.6},{"k":"30","t":142,"y":2.2},{"k":"30","t":143,"y":-2.0},{"k":"30","t":144,"y":2.3},{"k":"30","t":145,"y":-2.5},{"k":"30","t":146,"y":1.9},{"k":"30","t":147,"y":-1.8},{"k":"30","t":148,"y":1.8},{"k":"30","t":149,"y":-1.7},{"k":"30","t":150,"y":1.6},{"k":"30","t":151,"y":-1.4},{"k":"30","t":152,"y":1.2},{"k":"30","t":153,"y":-1.0},{"k":"30","t":154,"y":0.8},{"k":"30","t":155,"y":-0.6},{"k":"30","t":156,"y":0.4},{"k":"30","t":157,"y":-0.3},{"k":"30","t":158,"y":0.2},
{"k":"20","t":148,"y":0.3},{"k":"20","t":149,"y":-0.8},{"k":"20","t":150,"y":1.3},{"k":"20","t":151,"y":-1.5},{"k":"20","t":152,"y":1.7},{"k":"20","t":153,"y":-1.8},{"k":"20","t":154,"y":1.9},{"k":"20","t":155,"y":-2.0},{"k":"20","t":156,"y":2.0},{"k":"20","t":157,"y":-2.1},{"k":"20","t":158,"y":2.1},{"k":"20","t":159,"y":-2.2},{"k":"20","t":160,"y":2.2},{"k":"20","t":161,"y":-2.2},{"k":"20","t":162,"y":2.2},{"k":"20","t":163,"y":-2.1},{"k":"20","t":164,"y":2.1},{"k":"20","t":165,"y":-2.0},{"k":"20","t":166,"y":2.0},{"k":"20","t":167,"y":-2.1},{"k":"20","t":168,"y":1.8},{"k":"20","t":169,"y":-1.6},{"k":"20","t":170,"y":1.4},{"k":"20","t":171,"y":-1.2},{"k":"20","t":172,"y":1.0},{"k":"20","t":173,"y":-0.8},{"k":"20","t":174,"y":0.6},{"k":"20","t":175,"y":-0.5},{"k":"20","t":176,"y":0.4},{"k":"20","t":177,"y":-0.3},{"k":"20","t":178,"y":0.2},
{"k":"10","t":168,"y":0.3},{"k":"10","t":169,"y":-0.7},{"k":"10","t":170,"y":1.1},{"k":"10","t":171,"y":-1.3},{"k":"10","t":172,"y":1.5},{"k":"10","t":173,"y":-1.6},{"k":"10","t":174,"y":1.7},{"k":"10","t":175,"y":-1.7},{"k":"10","t":176,"y":1.8},{"k":"10","t":177,"y":-1.8},{"k":"10","t":178,"y":1.8},{"k":"10","t":179,"y":-1.8},{"k":"10","t":180,"y":1.8},{"k":"10","t":181,"y":-1.7},{"k":"10","t":182,"y":1.8},{"k":"10","t":183,"y":-1.7},{"k":"10","t":184,"y":1.6},{"k":"10","t":185,"y":-1.6},{"k":"10","t":186,"y":1.5},{"k":"10","t":187,"y":-1.4},{"k":"10","t":188,"y":1.3},{"k":"10","t":189,"y":-1.2},{"k":"10","t":190,"y":1.0},{"k":"10","t":191,"y":-0.9},{"k":"10","t":192,"y":0.7},{"k":"10","t":193,"y":-0.6},{"k":"10","t":194,"y":0.5},{"k":"10","t":195,"y":-0.4},{"k":"10","t":196,"y":0.3},{"k":"10","t":197,"y":-0.2},{"k":"10","t":198,"y":0.1},
{"k":"0","t":188,"y":0.3},{"k":"0","t":189,"y":-0.6},{"k":"0","t":190,"y":1.0},{"k":"0","t":191,"y":-1.2},{"k":"0","t":192,"y":1.3},{"k":"0","t":193,"y":-1.4},{"k":"0","t":194,"y":1.5},{"k":"0","t":195,"y":-1.5},{"k":"0","t":196,"y":1.6},{"k":"0","t":197,"y":-1.6},{"k":"0","t":198,"y":1.6},{"k":"0","t":199,"y":-1.7},{"k":"0","t":200,"y":1.6},{"k":"0","t":201,"y":-1.6},{"k":"0","t":202,"y":1.5},{"k":"0","t":203,"y":-1.5},{"k":"0","t":204,"y":1.4},{"k":"0","t":205,"y":-1.5},{"k":"0","t":206,"y":1.6},{"k":"0","t":207,"y":-1.3},{"k":"0","t":208,"y":1.2},{"k":"0","t":209,"y":-1.1},{"k":"0","t":210,"y":1.0},{"k":"0","t":211,"y":-0.9},{"k":"0","t":212,"y":0.7},{"k":"0","t":213,"y":-0.6},{"k":"0","t":214,"y":0.5},{"k":"0","t":215,"y":-0.4},{"k":"0","t":216,"y":0.3},{"k":"0","t":217,"y":-0.2},{"k":"0","t":218,"y":0.1},
{"k":"-10","t":208,"y":0.3},{"k":"-10","t":209,"y":-0.7},{"k":"-10","t":210,"y":1.1},{"k":"-10","t":211,"y":-1.3},{"k":"-10","t":212,"y":1.5},{"k":"-10","t":213,"y":-1.6},{"k":"-10","t":214,"y":1.7},{"k":"-10","t":215,"y":-1.8},{"k":"-10","t":216,"y":1.9},{"k":"-10","t":217,"y":-1.9},{"k":"-10","t":218,"y":1.8},{"k":"-10","t":219,"y":-1.9},{"k":"-10","t":220,"y":1.9},{"k":"-10","t":221,"y":-1.8},{"k":"-10","t":222,"y":1.8},{"k":"-10","t":223,"y":-1.8},{"k":"-10","t":224,"y":1.7},{"k":"-10","t":225,"y":-1.6},{"k":"-10","t":226,"y":1.5},{"k":"-10","t":227,"y":-1.4},{"k":"-10","t":228,"y":1.3},{"k":"-10","t":229,"y":-1.2},{"k":"-10","t":230,"y":1.0},{"k":"-10","t":231,"y":-0.9},{"k":"-10","t":232,"y":0.7},{"k":"-10","t":233,"y":-0.6},{"k":"-10","t":234,"y":0.5},{"k":"-10","t":235,"y":-0.4},{"k":"-10","t":236,"y":0.3},{"k":"-10","t":237,"y":-0.2},{"k":"-10","t":238,"y":0.1},
{"k":"-20","t":228,"y":0.3},{"k":"-20","t":229,"y":-0.8},{"k":"-20","t":230,"y":1.2},{"k":"-20","t":231,"y":-1.3},{"k":"-20","t":232,"y":1.4},{"k":"-20","t":233,"y":-1.5},{"k":"-20","t":234,"y":1.7},{"k":"-20","t":235,"y":-1.6},{"k":"-20","t":236,"y":1.9},{"k":"-20","t":237,"y":-2.0},{"k":"-20","t":238,"y":1.8},{"k":"-20","t":239,"y":-2.0},{"k":"-20","t":240,"y":2.1},{"k":"-20","t":241,"y":-1.8},{"k":"-20","t":242,"y":2.0},{"k":"-20","t":243,"y":-1.9},{"k":"-20","t":244,"y":1.8},{"k":"-20","t":245,"y":-2.0},{"k":"-20","t":246,"y":1.7},{"k":"-20","t":247,"y":-1.6},{"k":"-20","t":248,"y":1.5},{"k":"-20","t":249,"y":-1.4},{"k":"-20","t":250,"y":1.3},{"k":"-20","t":251,"y":-1.1},{"k":"-20","t":252,"y":0.9},{"k":"-20","t":253,"y":-0.7},{"k":"-20","t":254,"y":0.6},{"k":"-20","t":255,"y":-0.5},{"k":"-20","t":256,"y":0.4},{"k":"-20","t":257,"y":-0.3},{"k":"-20","t":258,"y":0.2},
{"k":"-30","t":248,"y":0.3},{"k":"-30","t":249,"y":-0.9},{"k":"-30","t":250,"y":1.5},{"k":"-30","t":251,"y":-1.7},{"k":"-30","t":252,"y":1.9},{"k":"-30","t":253,"y":-2.0},{"k":"-30","t":254,"y":2.1},{"k":"-30","t":255,"y":-2.2},{"k":"-30","t":256,"y":2.3},{"k":"-30","t":257,"y":-2.3},{"k":"-30","t":258,"y":2.4},{"k":"-30","t":259,"y":-2.4},{"k":"-30","t":260,"y":2.5},{"k":"-30","t":261,"y":-2.5},{"k":"-30","t":262,"y":2.6},{"k":"-30","t":263,"y":-2.5},{"k":"-30","t":264,"y":2.3},{"k":"-30","t":265,"y":-2.2},{"k":"-30","t":266,"y":2.3},{"k":"-30","t":267,"y":-2.0},{"k":"-30","t":268,"y":1.8},{"k":"-30","t":269,"y":-1.6},{"k":"-30","t":270,"y":1.4},{"k":"-30","t":271,"y":-1.2},{"k":"-30","t":272,"y":1.0},{"k":"-30","t":273,"y":-0.8},{"k":"-30","t":274,"y":0.6},{"k":"-30","t":275,"y":-0.5},{"k":"-30","t":276,"y":0.4},{"k":"-30","t":277,"y":-0.3},{"k":"-30","t":278,"y":0.2},
{"k":"-40","t":268,"y":0.3},{"k":"-40","t":269,"y":-1.0},{"k":"-40","t":270,"y":1.7},{"k":"-40","t":271,"y":-1.9},{"k":"-40","t":272,"y":2.1},{"k":"-40","t":273,"y":-2.2},{"k":"-40","t":274,"y":2.3},{"k":"-40","t":275,"y":-2.4},{"k":"-40","t":276,"y":2.5},{"k":"-40","t":277,"y":-2.6},{"k":"-40","t":278,"y":2.6},{"k":"-40","t":279,"y":-2.7},{"k":"-40","t":280,"y":2.5},{"k":"-40","t":281,"y":-2.7},{"k":"-40","t":282,"y":2.6},{"k":"-40","t":283,"y":-2.6},{"k":"-40","t":284,"y":2.9},{"k":"-40","t":285,"y":-2.9},{"k":"-40","t":286,"y":2.6},{"k":"-40","t":287,"y":-2.4},{"k":"-40","t":288,"y":2.3},{"k":"-40","t":289,"y":-2.1},{"k":"-40","t":290,"y":1.9},{"k":"-40","t":291,"y":-1.6},{"k":"-40","t":292,"y":1.3},{"k":"-40","t":293,"y":-1.1},{"k":"-40","t":294,"y":0.9},{"k":"-40","t":295,"y":-0.7},{"k":"-40","t":296,"y":0.5},{"k":"-40","t":297,"y":-0.3},{"k":"-40","t":298,"y":0.2},
{"k":"-50","t":288,"y":0.3},{"k":"-50","t":289,"y":-1.0},{"k":"-50","t":290,"y":1.8},{"k":"-50","t":291,"y":-2.1},{"k":"-50","t":292,"y":2.3},{"k":"-50","t":293,"y":-2.4},{"k":"-50","t":294,"y":2.5},{"k":"-50","t":295,"y":-2.6},{"k":"-50","t":296,"y":2.6},{"k":"-50","t":297,"y":-2.7},{"k":"-50","t":298,"y":2.7},{"k":"-50","t":299,"y":-2.8},{"k":"-50","t":300,"y":2.8},{"k":"-50","t":301,"y":-2.8},{"k":"-50","t":302,"y":2.8},{"k":"-50","t":303,"y":-2.9},{"k":"-50","t":304,"y":3.0},{"k":"-50","t":305,"y":-3.1},{"k":"-50","t":306,"y":3.1},{"k":"-50","t":307,"y":-2.8},{"k":"-50","t":308,"y":2.6},{"k":"-50","t":309,"y":-2.4},{"k":"-50","t":310,"y":2.2},{"k":"-50","t":311,"y":-1.9},{"k":"-50","t":312,"y":1.6},{"k":"-50","t":313,"y":-1.3},{"k":"-50","t":314,"y":1.0},{"k":"-50","t":315,"y":-0.8},{"k":"-50","t":316,"y":0.6},{"k":"-50","t":317,"y":-0.4},{"k":"-50","t":318,"y":0.2},
{"k":"-60","t":308,"y":0.4},{"k":"-60","t":309,"y":-1.1},{"k":"-60","t":310,"y":2.0},{"k":"-60","t":311,"y":-2.3},{"k":"-60","t":312,"y":2.6},{"k":"-60","t":313,"y":-2.8},{"k":"-60","t":314,"y":3.0},{"k":"-60","t":315,"y":-3.1},{"k":"-60","t":316,"y":3.2},{"k":"-60","t":317,"y":-3.3},{"k":"-60","t":318,"y":3.4},{"k":"-60","t":319,"y":-3.5},{"k":"-60","t":320,"y":3.6},{"k":"-60","t":321,"y":-3.5},{"k":"-60","t":322,"y":3.3},{"k":"-60","t":323,"y":-3.3},{"k":"-60","t":324,"y":3.1},{"k":"-60","t":325,"y":-3.0},{"k":"-60","t":326,"y":2.8},{"k":"-60","t":327,"y":-2.7},{"k":"-60","t":328,"y":2.5},{"k":"-60","t":329,"y":-2.2},{"k":"-60","t":330,"y":2.0},{"k":"-60","t":331,"y":-1.7},{"k":"-60","t":332,"y":1.4},{"k":"-60","t":333,"y":-1.1},{"k":"-60","t":334,"y":0.9},{"k":"-60","t":335,"y":-0.7},{"k":"-60","t":336,"y":0.5},{"k":"-60","t":337,"y":-0.3},{"k":"-60","t":338,"y":0.2},
{"k":"-70","t":328,"y":0.4},{"k":"-70","t":329,"y":-1.1},{"k":"-70","t":330,"y":2.0},{"k":"-70","t":331,"y":-2.2},{"k":"-70","t":332,"y":2.3},{"k":"-70","t":333,"y":-2.4},{"k":"-70","t":334,"y":2.5},{"k":"-70","t":335,"y":-2.5},{"k":"-70","t":336,"y":2.6},{"k":"-70","t":337,"y":-2.7},{"k":"-70","t":338,"y":3.4},{"k":"-70","t":339,"y":-2.6},{"k":"-70","t":340,"y":2.7},{"k":"-70","t":341,"y":-3.4},{"k":"-70","t":342,"y":2.8},{"k":"-70","t":343,"y":-3.5},{"k":"-70","t":344,"y":3.3},{"k":"-70","t":345,"y":-2.8},{"k":"-70","t":346,"y":2.7},{"k":"-70","t":347,"y":-2.6},{"k":"-70","t":348,"y":2.5},{"k":"-70","t":349,"y":-2.3},{"k":"-70","t":350,"y":2.0},{"k":"-70","t":351,"y":-1.7},{"k":"-70","t":352,"y":1.4},{"k":"-70","t":353,"y":-1.1},{"k":"-70","t":354,"y":0.8},{"k":"-70","t":355,"y":-0.6},{"k":"-70","t":356,"y":0.4},{"k":"-70","t":359,"y":-0.3},{"k":"-70","t":363,"y":0.3},{"k":"-70","t":367,"y":-0.3},{"k":"-70","t":371,"y":0.3},{"k":"-70","t":375,"y":-0.3},{"k":"-70","t":379,"y":0.3},{"k":"-70","t":382,"y":-0.3},{"k":"-70","t":384,"y":0.2},{"k":"-70","t":385,"y":0},
{"k":"-80","t":0,"y":0},{"k":"-80","t":242,"y":0},{"k":"-80","t":244,"y":0.1},{"k":"-80","t":246,"y":-0.1},{"k":"-80","t":248,"y":0.2},{"k":"-80","t":250,"y":-0.2},{"k":"-80","t":252,"y":0.2},{"k":"-80","t":254,"y":-0.2},{"k":"-80","t":256,"y":0.2},{"k":"-80","t":258,"y":-0.3},{"k":"-80","t":260,"y":0.2},{"k":"-80","t":262,"y":-0.3},{"k":"-80","t":264,"y":0.3},{"k":"-80","t":266,"y":-0.2},{"k":"-80","t":268,"y":0.3},{"k":"-80","t":270,"y":-0.3},{"k":"-80","t":272,"y":0.3},{"k":"-80","t":274,"y":-0.3},{"k":"-80","t":276,"y":0.3},{"k":"-80","t":278,"y":-0.3},{"k":"-80","t":280,"y":0.4},{"k":"-80","t":282,"y":-0.3},{"k":"-80","t":284,"y":0.3},{"k":"-80","t":286,"y":-0.4},{"k":"-80","t":288,"y":0.4},{"k":"-80","t":290,"y":-0.3},{"k":"-80","t":292,"y":0.4},{"k":"-80","t":294,"y":-0.4},{"k":"-80","t":296,"y":0.4},{"k":"-80","t":298,"y":-0.4},{"k":"-80","t":300,"y":0.4},{"k":"-80","t":302,"y":-0.4},{"k":"-80","t":304,"y":0.5},{"k":"-80","t":306,"y":-0.4},{"k":"-80","t":308,"y":0.5},{"k":"-80","t":310,"y":-0.4},{"k":"-80","t":312,"y":0.5},{"k":"-80","t":314,"y":-0.5},{"k":"-80","t":316,"y":0.5},{"k":"-80","t":318,"y":-0.5},{"k":"-80","t":320,"y":0.5},{"k":"-80","t":322,"y":-0.5},{"k":"-80","t":324,"y":0.5},{"k":"-80","t":326,"y":-0.5},{"k":"-80","t":328,"y":0.5},{"k":"-80","t":330,"y":-0.5},{"k":"-80","t":332,"y":0.5},{"k":"-80","t":334,"y":-0.5},{"k":"-80","t":336,"y":0.6},{"k":"-80","t":338,"y":-0.5},{"k":"-80","t":340,"y":0.6},{"k":"-80","t":342,"y":-0.5},{"k":"-80","t":344,"y":0.6},{"k":"-80","t":345,"y":-0.5},{"k":"-80","t":346,"y":0.6},{"k":"-80","t":347,"y":-0.8},{"k":"-80","t":348,"y":1.8},{"k":"-80","t":349,"y":-2.2},{"k":"-80","t":350,"y":2.6},{"k":"-80","t":351,"y":-2.8},{"k":"-80","t":352,"y":3.0},{"k":"-80","t":353,"y":-3.1},{"k":"-80","t":354,"y":3.3},{"k":"-80","t":355,"y":-3.4},{"k":"-80","t":356,"y":3.6},{"k":"-80","t":357,"y":-3.5},{"k":"-80","t":358,"y":3.9},{"k":"-80","t":359,"y":-3.7},{"k":"-80","t":360,"y":4.1},{"k":"-80","t":361,"y":-4.0},{"k":"-80","t":362,"y":4.3},{"k":"-80","t":363,"y":-4.2},{"k":"-80","t":364,"y":4.6},{"k":"-80","t":365,"y":-4.4},{"k":"-80","t":366,"y":3.9},{"k":"-80","t":367,"y":-3.9},{"k":"-80","t":368,"y":3.6},{"k":"-80","t":369,"y":-3.4},{"k":"-80","t":370,"y":3.1},{"k":"-80","t":371,"y":-2.8},{"k":"-80","t":372,"y":2.4},{"k":"-80","t":373,"y":-2.2},{"k":"-80","t":374,"y":2.0},{"k":"-80","t":375,"y":-1.6},{"k":"-80","t":376,"y":1.3},{"k":"-80","t":377,"y":-1.0},{"k":"-80","t":378,"y":0.8},{"k":"-80","t":379,"y":-0.6},{"k":"-80","t":380,"y":0.5},{"k":"-80","t":381,"y":-0.4},{"k":"-80","t":382,"y":0.3},{"k":"-80","t":383,"y":0}
]
},
"vconcat":[
{"width":526,"height":278,
"title":{"text":"a.\u00a0\u00a0\u00a0\u00a0normal displacements","dx":-22,"offset":21},
"encoding":{
"x":{"field":"t","type":"quantitative","scale":{"domain":[0,400],"nice":false,"zero":false},"axis":{"title":"time / µs","titlePadding":2,"labelOverlap":false,"values":[0,25,50,75,100,125,150,175,200,225,250,275,300,325,350,375,400],"labelExpr":"datum.value % 50 === 0 ? datum.label : ''","tickSize":{"condition":{"test":"datum.value % 50 === 0","value":6},"value":3}}},
"y":{"field":"y","type":"quantitative","scale":{"domain":[-8,8],"nice":false},"axis":{"title":"amplitude (×10⁻¹⁰ m)","titlePadding":16,"labelOverlap":false,"values":[-8,-7,-6,-5,-4,-3,-2,-1,0,1,2,3,4,5,6,7,8],"labelExpr":"datum.value % 2 === 0 ? '' + datum.value : ''","tickSize":{"condition":{"test":"datum.value % 2 === 0","value":6},"value":3}}}
},
"layer":[
{"data":{"name":"a"},"mark":{"type":"line","strokeWidth":1.5},
"encoding":{
"color":{"field":"k","type":"nominal","legend":null,"sort":null,"scale":{"domain":["80","70","60","50","40","30","20","10","0","-10","-20","-30","-40","-50","-60","-70","-80"],"range":["#f20000","#36679a","#ffc20e","#3cbf6a","#5e5e9e","#9a9a9a","#ff6b6b","#6a9fd4","#d4720b","#0a9e96","#7067c6","#a08d80","#d63b3b","#6ba3a0","#d19c0a","#f20000","#36679a"]}}
}},
{"data":{"name":"lab"},"transform":[{"filter":"datum.p === 'a'"}],"mark":{"type":"text","font":"Liberation Sans","fontSize":18,"color":"#000"},
"encoding":{"text":{"field":"s"}}}
]},
{"width":526,"height":274,
"title":{"text":"b.\u00a0\u00a0\u00a0\u00a0tangential displacements","dx":-26,"offset":19},
"encoding":{
"x":{"field":"t","type":"quantitative","scale":{"domain":[0,400],"nice":false,"zero":false},"axis":{"title":"time / µs","titlePadding":2,"labelOverlap":false,"values":[0,25,50,75,100,125,150,175,200,225,250,275,300,325,350,375,400],"labelExpr":"datum.value % 50 === 0 ? datum.label : ''","tickSize":{"condition":{"test":"datum.value % 50 === 0","value":6},"value":3}}},
"y":{"field":"y","type":"quantitative","scale":{"domain":[-8,8],"nice":false},"axis":{"title":"amplitude (×10⁻¹⁰ m)","titlePadding":16,"labelOverlap":false,"values":[-8,-7,-6,-5,-4,-3,-2,-1,0,1,2,3,4,5,6,7,8],"labelExpr":"datum.value % 2 === 0 ? '' + datum.value : ''","tickSize":{"condition":{"test":"datum.value % 2 === 0","value":6},"value":3}}}
},
"layer":[
{"data":{"name":"b"},"mark":{"type":"line","strokeWidth":2},
"encoding":{
"color":{"field":"k","type":"nominal","legend":null,"sort":null,"scale":{"domain":["80","70","60","50","40","30","20","10","0","-10","-20","-30","-40","-50","-60","-70","-80"],"range":["#f20000","#36679a","#ffc20e","#3cbf6a","#5e5e9e","#9a9a9a","#ff6b6b","#6a9fd4","#d4720b","#0a9e96","#7067c6","#a08d80","#d63b3b","#6ba3a0","#d19c0a","#f20000","#36679a"]}}
}},
{"data":{"name":"lab"},"transform":[{"filter":"datum.p === 'b'"}],"mark":{"type":"text","font":"Liberation Sans","fontSize":18,"color":"#000"},
"encoding":{"text":{"field":"s"}}}
]}
]
}
